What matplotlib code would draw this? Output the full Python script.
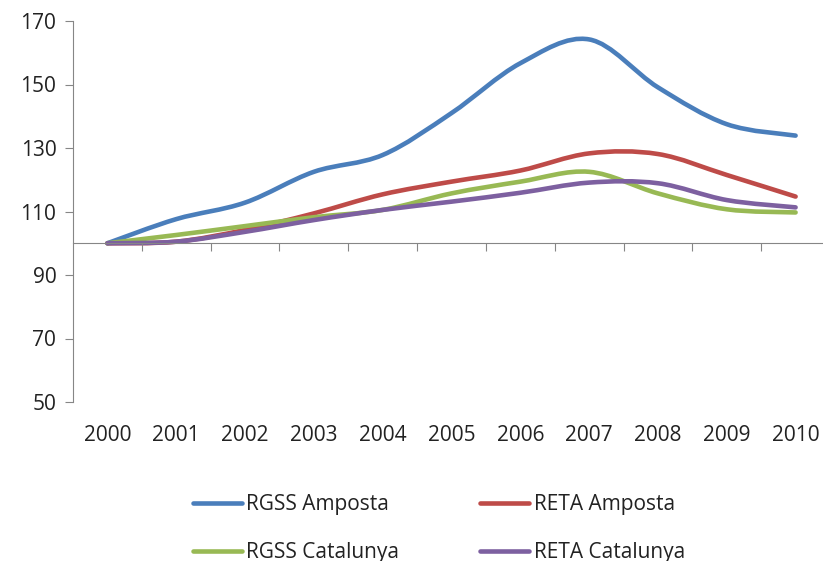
import numpy as np
import matplotlib.pyplot as plt
from matplotlib.path import Path
from matplotlib.patches import PathPatch
from matplotlib.lines import Line2D
from matplotlib.transforms import blended_transform_factory

plt.rcParams['font.family'] = ['Open Sans', 'DejaVu Sans']

# data (index, 2000 = 100)
years = ['2000', '2001', '2002', '2003', '2004', '2005',
         '2006', '2007', '2008', '2009', '2010']
rgss_amposta = [100, 107.6, 112.8, 122.5, 127.8, 141.0, 156.7, 164.2, 149.1, 137.5, 133.9]
reta_amposta = [100, 100.5, 104.2, 109.4, 115.4, 119.4, 122.9, 128.3, 128.1, 121.5, 114.7]
rgss_catalunya = [100, 102.6, 105.4, 108.2, 110.5, 115.7, 119.4, 122.5, 115.7, 110.7, 109.7]
reta_catalunya = [100, 100.5, 103.6, 107.3, 110.5, 113.1, 115.9, 119.1, 118.9, 113.6, 111.3]

series = [
    ('RGSS Amposta', rgss_amposta, '#4A7EBB'),
    ('RETA Amposta', reta_amposta, '#BE4B48'),
    ('RGSS Catalunya', rgss_catalunya, '#98B954'),
    ('RETA Catalunya', reta_catalunya, '#7D60A0'),
]


def smooth_path(x, y):
    # excel style smoothed line: catmull-rom as cubic bezier
    pts = np.column_stack([x, y]).astype(float)
    ext = np.vstack([pts[0], pts, pts[-1]])
    verts = [pts[0]]
    codes = [Path.MOVETO]
    for i in range(len(pts) - 1):
        p0, p1, p2, p3 = ext[i], ext[i + 1], ext[i + 2], ext[i + 3]
        verts += [p1 + (p2 - p0) / 6, p2 - (p3 - p1) / 6, p2]
        codes += [Path.CURVE4] * 3
    return Path(verts, codes)


fig = plt.figure(figsize=(8.23, 5.61), dpi=100)
ax = fig.add_axes([73 / 823, 1 - 402 / 561, 757 / 823, 381 / 561])

x = np.arange(len(years))
for name, vals, col in series:
    patch = PathPatch(smooth_path(x, vals), facecolor='none', edgecolor=col,
                      lw=3.3, capstyle='round', joinstyle='round')
    ax.add_patch(patch)

ax.set_xlim(-0.5, len(years) - 0.5)
ax.set_ylim(50, 170)
ax.set_yticks(range(50, 171, 20))

axis_col = '#868686'
for s in ['top', 'right']:
    ax.spines[s].set_visible(False)
ax.spines['left'].set_color(axis_col)
ax.spines['bottom'].set_color(axis_col)
ax.spines['bottom'].set_position(('data', 100))

ax.set_xticks(np.arange(0.5, len(years) - 0.5, 1))
ax.set_xticklabels([])
ax.tick_params(axis='x', length=6, color=axis_col, direction='out')
ax.tick_params(axis='y', length=6, color=axis_col, direction='out',
               labelsize=15, pad=6, labelcolor='#222222')

trans = blended_transform_factory(ax.transData, ax.transAxes)
for i, lab in enumerate(years):
    ax.text(i, -0.087, lab, transform=trans, ha='center', va='center',
            fontsize=15, color='#222222')

# legend filled row by row like excel
order = [0, 2, 1, 3]
handles = [Line2D([], [], color=series[i][2], lw=3.3, solid_capstyle='round') for i in order]
labels = [series[i][0] for i in order]
fig.legend(handles, labels, ncol=2, loc='upper left',
           bbox_to_anchor=(193 / 823, 1 - 494 / 561), frameon=False,
           fontsize=15, handlelength=2.35, handletextpad=0.2,
           columnspacing=3.9, labelspacing=1.3, borderpad=0,
           borderaxespad=0, labelcolor='#222222')

fig.savefig('out.png', dpi=100)
